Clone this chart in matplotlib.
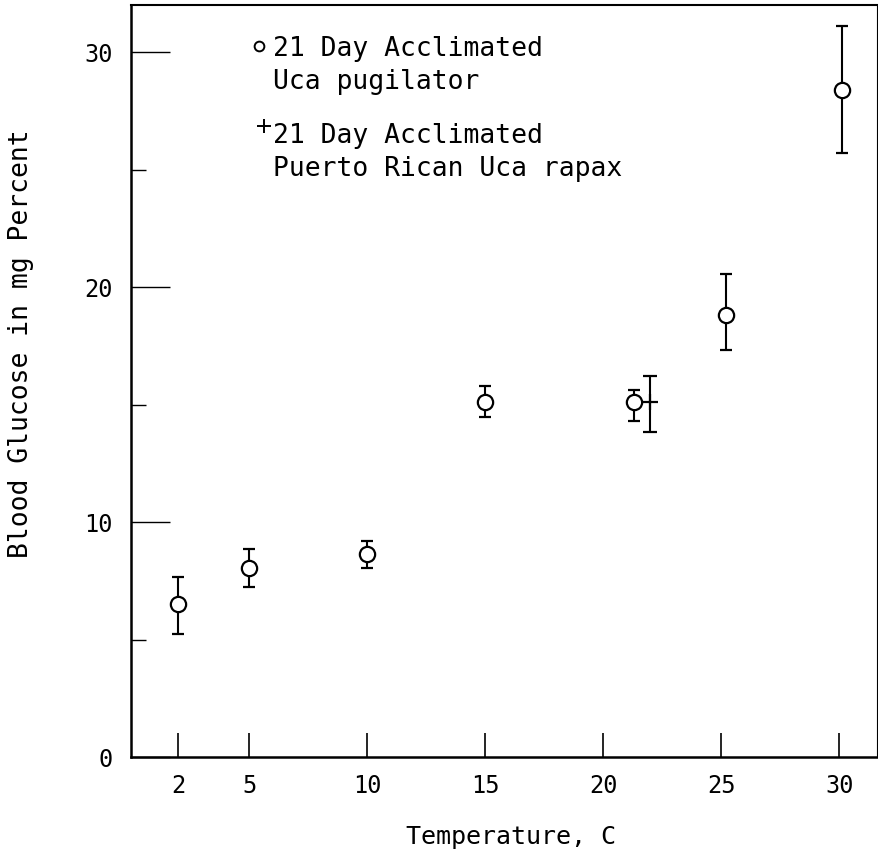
import numpy as np
import matplotlib.pyplot as plt
from matplotlib.ticker import MultipleLocator

# typewriter-like lettering of the original figure
plt.rcParams["font.family"] = ["DejaVu Sans Mono", "DejaVu Sans"]

# 21 day acclimated Uca pugilator
pug_temp = [2, 5, 10, 15, 21.3, 25.2, 30.1]
pug_mean = [6.5, 8.05, 8.65, 15.1, 15.1, 18.8, 28.4]
pug_low = [5.25, 7.25, 8.05, 14.45, 14.3, 17.3, 25.7]
pug_high = [7.65, 8.85, 9.2, 15.8, 15.6, 20.55, 31.1]

# 21 day acclimated Puerto Rican Uca rapax
rap_temp = [22.0]
rap_mean = [15.1]
rap_low = [13.85]
rap_high = [16.2]

x_ticks = [2, 5, 10, 15, 20, 25, 30]
y_ticks = [0, 10, 20, 30]


def plot_glucose():
    fig = plt.figure(figsize=(8.79, 8.52), dpi=100)
    ax = fig.add_axes([0.149, 0.1115, 0.8487, 0.8826])

    pm = np.array(pug_mean)
    err = [pm - np.array(pug_low), np.array(pug_high) - pm]
    ax.errorbar(pug_temp, pug_mean, yerr=err, fmt="o", ms=11,
                mfc="white", mec="black", mew=1.6, ecolor="black",
                elinewidth=1.5, capsize=4, capthick=1.6, zorder=3)

    rm = np.array(rap_mean)
    rerr = [rm - np.array(rap_low), np.array(rap_high) - rm]
    ax.errorbar(rap_temp, rap_mean, yerr=rerr, fmt="+", ms=12,
                mec="black", mew=1.6, ecolor="black",
                elinewidth=1.5, capsize=5, capthick=1.6, zorder=3)

    ax.set_xlim(0, 31.6)
    ax.set_ylim(0, 32)
    ax.set_xticks(x_ticks)
    ax.set_yticks(y_ticks)
    ax.yaxis.set_minor_locator(MultipleLocator(5))
    ax.tick_params(axis="y", which="major", direction="in", length=28,
                   width=1.0, pad=13, labelsize=17)
    ax.tick_params(axis="y", which="minor", direction="in", length=11,
                   width=1.0)
    ax.tick_params(axis="x", direction="in", length=17, width=1.2,
                   pad=12, labelsize=17)
    ax.spines["left"].set_linewidth(1.8)
    ax.spines["bottom"].set_linewidth(1.8)
    ax.spines["top"].set_linewidth(1.5)
    ax.spines["right"].set_linewidth(0.8)

    ax.set_xlabel("Temperature, C", fontsize=18, va="center")
    ax.xaxis.set_label_coords(0.509, -0.106)
    ax.set_ylabel("Blood Glucose in mg Percent", fontsize=19, va="center")
    ax.yaxis.set_label_coords(-0.148, 0.55)

    # legend drawn by hand
    tr = ax.transAxes
    ax.plot([0.171], [0.945], "o", ms=7, mfc="white", mec="black",
            mew=1.4, transform=tr, clip_on=False)
    ax.text(0.19, 0.959, "21 Day Acclimated\nUca pugilator", transform=tr,
            fontsize=19, va="top", ha="left", linespacing=1.36)
    ax.plot([0.178], [0.839], "+", ms=10, mec="black", mew=1.4,
            transform=tr, clip_on=False)
    ax.text(0.19, 0.843, "21 Day Acclimated\nPuerto Rican Uca rapax",
            transform=tr, fontsize=19, va="top", ha="left",
            linespacing=1.36)

    plt.savefig("out.png", dpi=100)


if __name__ == "__main__":
    plot_glucose()
